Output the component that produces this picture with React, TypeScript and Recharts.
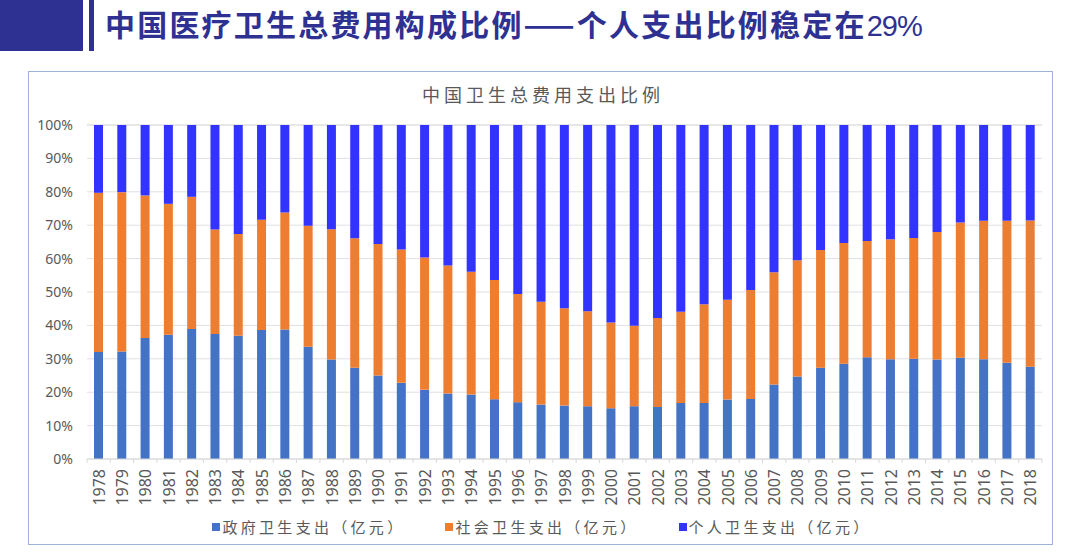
import React from "react";
import { BarChart, Bar, XAxis, YAxis, CartesianGrid, Legend } from "recharts";

const years = [
  "1978","1979","1980","1981","1982","1983","1984","1985","1986","1987",
  "1988","1989","1990","1991","1992","1993","1994","1995","1996","1997",
  "1998","1999","2000","2001","2002","2003","2004","2005","2006","2007",
  "2008","2009","2010","2011","2012","2013","2014","2015","2016","2017","2018",
];

const govShare = [
  32.0, 32.2, 36.2, 37.2, 38.9, 37.4, 36.9, 38.6, 38.8, 33.6,
  29.8, 27.3, 25.0, 22.8, 20.7, 19.6, 19.3, 17.9, 17.0, 16.3,
  16.0, 15.8, 15.2, 15.8, 15.6, 16.8, 16.8, 17.8, 18.0, 22.3,
  24.7, 27.3, 28.5, 30.5, 29.9, 30.0, 29.8, 30.3, 29.9, 28.8, 27.6,
];

const socialShare = [
  47.7, 47.7, 42.7, 39.2, 39.6, 31.3, 30.5, 33.0, 35.0, 36.2,
  39.0, 38.8, 39.4, 39.9, 39.6, 38.3, 36.8, 35.7, 32.4, 30.8,
  29.1, 28.4, 25.7, 24.1, 26.6, 27.3, 29.5, 29.9, 32.6, 33.6,
  34.8, 35.3, 36.2, 34.8, 35.9, 36.2, 38.2, 40.5, 41.4, 42.5, 43.8,
];

const personalShare = [
  20.3, 20.1, 21.1, 23.6, 21.5, 31.3, 32.6, 28.4, 26.2, 30.2,
  31.2, 33.9, 35.6, 37.3, 39.7, 42.1, 43.9, 46.4, 50.6, 52.9,
  54.9, 55.8, 59.1, 60.1, 57.8, 55.9, 53.7, 52.3, 49.4, 44.1,
  40.5, 37.4, 35.3, 34.7, 34.2, 33.8, 32.0, 29.2, 28.7, 28.7, 28.6,
];

const yTicks = [0, 10, 20, 30, 40, 50, 60, 70, 80, 90, 100];

const seriesNames = ["政府卫生支出（亿元）", "社会卫生支出（亿元）", "个人卫生支出（亿元）"];
const seriesColors = ["#4472C4", "#ED7D31", "#3333FF"];

const pageTitle = "中国医疗卫生总费用构成比例——个人支出比例稳定在";
const pageTitleTail = "29%";
const chartTitle = "中国卫生总费用支出比例";

const data = years.map((y, i) => ({
  year: y,
  gov: govShare[i],
  social: socialShare[i],
  personal: personalShare[i],
}));

const CHART_W = 1080;
const CHART_H = 559;
const MARGIN = { top: 125, right: 38, left: 0, bottom: 30 };
const Y_AXIS_W = 87;
const PLOT_W = CHART_W - MARGIN.left - MARGIN.right - Y_AXIS_W;
const STEP = PLOT_W / years.length;

const XTick = (props: any) => {
  const { x, y, payload, index } = props;
  const axisY = y - 8;
  const isLast = index === years.length - 1;
  return (
    <g>
      <line x1={x - STEP / 2} x2={x - STEP / 2} y1={axisY} y2={axisY + 4} stroke="#d9d9d9" />
      {isLast && (
        <line x1={x + STEP / 2} x2={x + STEP / 2} y1={axisY} y2={axisY + 4} stroke="#d9d9d9" />
      )}
      <text
        x={0}
        y={0}
        transform={`translate(${x},${axisY + 10}) rotate(-90)`}
        textAnchor="end"
        dominantBaseline="central"
        fill="#595959"
        fontSize={16}
        fontFamily="'Noto Sans', sans-serif"
      >
        {payload.value}
      </text>
    </g>
  );
};

const LegendContent = () => (
  <div
    style={{
      display: "flex",
      justifyContent: "center",
      gap: 40,
      fontFamily: "'Noto Sans CJK SC', sans-serif",
      fontSize: 15,
      letterSpacing: 3.3,
      color: "#595959",
      height: 20,
      lineHeight: "20px",
      paddingLeft: 4,
    }}
  >
    {seriesNames.map((n, i) => (
      <div key={n} style={{ display: "flex", alignItems: "center" }}>
        <span
          style={{
            display: "inline-block",
            width: 8,
            height: 8,
            background: seriesColors[i],
            marginRight: 2,
          }}
        />
        <span>{n}</span>
      </div>
    ))}
  </div>
);

export default function App() {
  return (
    <div
      style={{
        position: "absolute",
        left: 0,
        top: 0,
        width: CHART_W,
        height: CHART_H,
        background: "#fff",
        overflow: "hidden",
      }}
    >
      <div style={{ position: "absolute", left: 0, top: 0, width: 83, height: 51, background: "#2E3192" }} />
      <div style={{ position: "absolute", left: 89, top: 0, width: 5, height: 51, background: "#2E3192" }} />
      <div
        style={{
          position: "absolute",
          left: 105,
          top: 1,
          height: 44,
          lineHeight: "44px",
          color: "#2E3192",
          fontFamily: "'Noto Sans CJK SC', sans-serif",
          fontWeight: 700,
          fontSize: 30,
          letterSpacing: 2.2,
          whiteSpace: "nowrap",
        }}
      >
        {pageTitle}
        <span style={{ fontFamily: "'Liberation Sans Narrow', 'Liberation Sans', sans-serif", fontWeight: 400, fontSize: 29, letterSpacing: -1 }}>
          {pageTitleTail}
        </span>
      </div>
      <div
        style={{
          position: "absolute",
          left: 28,
          top: 71,
          width: 1025,
          height: 474,
          border: "1px solid #9fb1da",
          boxSizing: "border-box",
        }}
      />
      <div
        style={{
          position: "absolute",
          left: 0,
          top: 83,
          width: CHART_W,
          textAlign: "center",
          paddingLeft: 6,
          boxSizing: "border-box",
          fontFamily: "'Noto Sans CJK SC', sans-serif",
          fontSize: 18,
          letterSpacing: 4,
          color: "#595959",
          lineHeight: "22px",
        }}
      >
        {chartTitle}
      </div>
      <div style={{ position: "absolute", left: 0, top: 0 }}>
        <BarChart width={CHART_W} height={CHART_H} data={data} margin={MARGIN} barSize={9}>
          <CartesianGrid vertical={false} stroke="#e0e0e0" />
          <XAxis
            dataKey="year"
            interval={0}
            height={50}
            axisLine={{ stroke: "#d9d9d9" }}
            tickLine={false}
            tick={<XTick />}
          />
          <YAxis
            width={Y_AXIS_W}
            domain={[0, 100]}
            ticks={yTicks}
            tickFormatter={(v: number) => `${v}%`}
            axisLine={false}
            tickLine={false}
            tickSize={0}
            tickMargin={14}
            tick={{ fill: "#595959", fontSize: 14, fontFamily: "'Noto Sans', sans-serif" }}
          />
          <Legend
            verticalAlign="bottom"
            height={20}
            wrapperStyle={{ bottom: 22, left: 0, width: CHART_W }}
            content={<LegendContent />}
          />
          <Bar dataKey="gov" name={seriesNames[0]} stackId="a" fill={seriesColors[0]} isAnimationActive={false} />
          <Bar dataKey="social" name={seriesNames[1]} stackId="a" fill={seriesColors[1]} isAnimationActive={false} />
          <Bar dataKey="personal" name={seriesNames[2]} stackId="a" fill={seriesColors[2]} isAnimationActive={false} />
        </BarChart>
      </div>
    </div>
  );
}
